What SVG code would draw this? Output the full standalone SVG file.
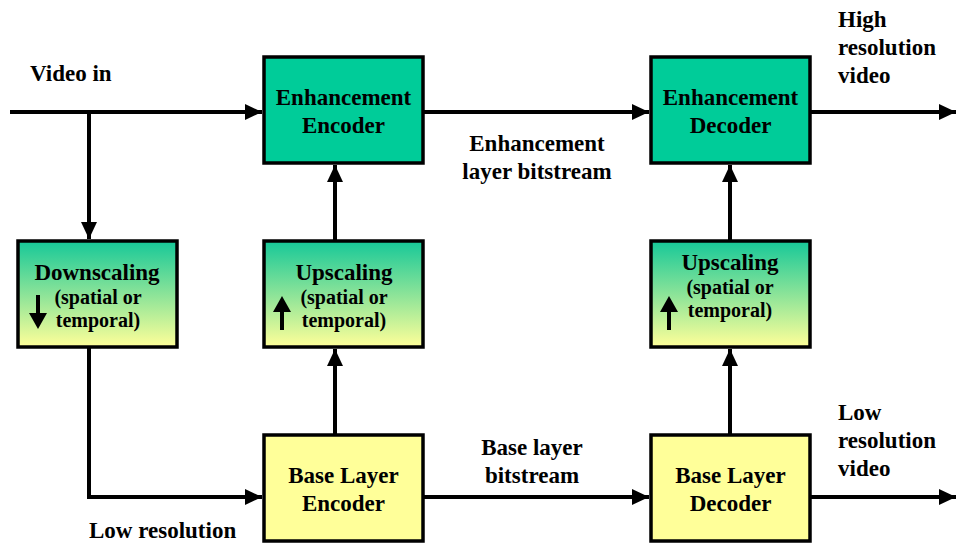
<svg xmlns="http://www.w3.org/2000/svg" width="956" height="543" viewBox="0 0 956 543">
<style>
text{font-family:"Liberation Serif","Times New Roman",serif;font-weight:bold;fill:#000}
.big{font-size:23px}
.sm{font-size:20px}
.c{text-anchor:middle}
.box{stroke:#000;stroke-width:3.5}
.green{fill:#00CC99}
.yel{fill:#FFFF99}
.grad{fill:url(#g)}
.ln{fill:none;stroke:#000;stroke-width:4}
</style>
<defs>
<linearGradient id="g" x1="0" y1="0" x2="0" y2="1">
<stop offset="0" stop-color="#16C898"/>
<stop offset="1" stop-color="#FFFF99"/>
</linearGradient>
<marker id="ah" markerUnits="userSpaceOnUse" markerWidth="18" markerHeight="18" refX="17" refY="8" orient="auto" viewBox="0 0 18 16">
<path d="M0,0 L17,8 L0,16 z" fill="#000"/>
</marker>
</defs>
<g id="connectors">
<path class="ln" d="M10,112 H262" marker-end="url(#ah)"/>
<path class="ln" d="M89,112 V239" marker-end="url(#ah)"/>
<path class="ln" d="M89,348 V497 H262" marker-end="url(#ah)"/>
<path class="ln" d="M335,434 V349" marker-end="url(#ah)"/>
<path class="ln" d="M335,241 V165" marker-end="url(#ah)"/>
<path class="ln" d="M423,112 H649" marker-end="url(#ah)"/>
<path class="ln" d="M423,497 H649" marker-end="url(#ah)"/>
<path class="ln" d="M730,434 V349" marker-end="url(#ah)"/>
<path class="ln" d="M730,241 V165" marker-end="url(#ah)"/>
<path class="ln" d="M810,112 H956" marker-end="url(#ah)"/>
<path class="ln" d="M810,497 H956" marker-end="url(#ah)"/>
</g>
<g id="enh-encoder">
<rect class="box green" x="264" y="57" width="159" height="106"/>
<text class="big c" x="343.5" y="105">Enhancement</text>
<text class="big c" x="343.5" y="133">Encoder</text>
</g>
<g id="enh-decoder">
<rect class="box green" x="651" y="57" width="159" height="106"/>
<text class="big c" x="730.5" y="105">Enhancement</text>
<text class="big c" x="730.5" y="133">Decoder</text>
</g>
<g id="downscaling">
<rect class="box grad" x="18" y="241" width="159" height="106"/>
<text class="big c" x="97" y="280">Downscaling</text>
<text class="sm c" x="98" y="304">(spatial or</text>
<text class="sm c" x="98" y="327">temporal)</text>
<path d="M36,295 h4 v18 h7 l-9,16 l-9,-16 h7 z" fill="#000"/>
</g>
<g id="upscaling-enc">
<rect class="box grad" x="264" y="241" width="159" height="106"/>
<text class="big c" x="344" y="280">Upscaling</text>
<text class="sm c" x="344" y="304">(spatial or</text>
<text class="sm c" x="344" y="327">temporal)</text>
<path d="M280,330 h4 v-18 h7 l-9,-16 l-9,16 h7 z" fill="#000"/>
</g>
<g id="upscaling-dec">
<rect class="box grad" x="651" y="241" width="159" height="106"/>
<text class="big c" x="730" y="270">Upscaling</text>
<text class="sm c" x="730" y="294">(spatial or</text>
<text class="sm c" x="730" y="317">temporal)</text>
<path d="M667,330 h4 v-18 h7 l-9,-16 l-9,16 h7 z" fill="#000"/>
</g>
<g id="base-encoder">
<rect class="box yel" x="264" y="435" width="159" height="106"/>
<text class="big c" x="343.5" y="483">Base Layer</text>
<text class="big c" x="343.5" y="511">Encoder</text>
</g>
<g id="base-decoder">
<rect class="box yel" x="651" y="435" width="159" height="106"/>
<text class="big c" x="730.5" y="483">Base Layer</text>
<text class="big c" x="730.5" y="511">Decoder</text>
</g>
<g id="labels">
<text class="big" x="30" y="81">Video in</text>
<text class="big c" x="537" y="151">Enhancement</text>
<text class="big c" x="537" y="179">layer bitstream</text>
<text class="big c" x="532" y="455">Base layer</text>
<text class="big c" x="532" y="483">bitstream</text>
<text class="big" x="838" y="27">High</text>
<text class="big" x="838" y="55">resolution</text>
<text class="big" x="838" y="83">video</text>
<text class="big" x="838" y="420">Low</text>
<text class="big" x="838" y="448">resolution</text>
<text class="big" x="838" y="476">video</text>
<text class="big" x="89" y="538">Low resolution</text>
</g>
</svg>
